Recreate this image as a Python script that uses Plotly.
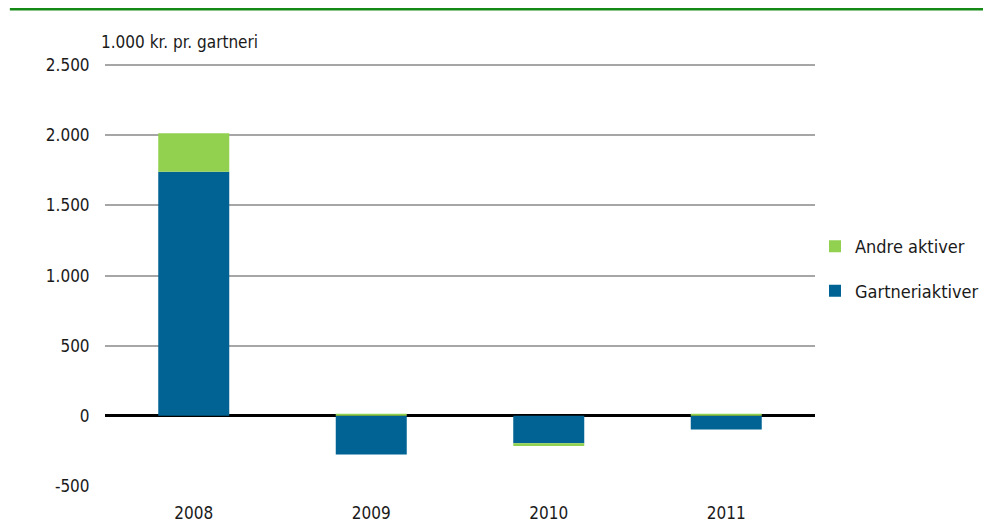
import plotly.graph_objects as go

years = ["2008", "2009", "2010", "2011"]
gartneriaktiver = [1740, -275, -195, -97]
andre_aktiver = [275, 15, -20, 15]
ytick_vals = [-500, 0, 500, 1000, 1500, 2000, 2500]
ytick_text = ["-500", "0", "500", "1.000", "1.500", "2.000", "2.500"]

FONT = "Liberation Sans Narrow, DejaVu Sans Condensed, Roboto Condensed, Roboto, sans-serif"
FS = 17

fig = go.Figure()
fig.add_trace(go.Bar(x=years, y=gartneriaktiver, name="Gartneriaktiver", legendgroup="g",
                     legendrank=2, marker=dict(color="#006394", line=dict(width=0))))
fig.add_trace(go.Bar(x=years, y=andre_aktiver, name="Andre aktiver", legendgroup="a",
                     legendrank=1, marker=dict(color="#92d050", line=dict(width=0))))

# page body has an 8px margin, so the figure is drawn 8px in from the top-left
fig.update_layout(
    width=983, height=514,
    margin=dict(l=97, r=176, t=56, b=36, autoexpand=False),
    barmode="relative", bargap=0.6,
    plot_bgcolor="white", paper_bgcolor="white",
    font=dict(family=FONT, size=FS, color="#1a1a1a"),
    showlegend=True,
    legend=dict(x=1.0, y=0.515, xanchor="left", yanchor="middle",
                traceorder="grouped", tracegroupgap=18,
                font=dict(family=FONT, size=18, color="#1a1a1a"),
                itemwidth=30),
    xaxis=dict(showgrid=False, showline=False, ticks="outside", ticklen=12,
               tickcolor="rgba(0,0,0,0)", tickfont=dict(size=FS), automargin=False),
    yaxis=dict(range=[-500, 2508], tickvals=ytick_vals, ticktext=ytick_text,
               showgrid=True, gridcolor="#a6a6a6", gridwidth=1.5,
               zeroline=True, zerolinecolor="black", zerolinewidth=2.5,
               ticks="outside", ticklen=11, tickcolor="rgba(0,0,0,0)", tickfont=dict(size=FS),
               automargin=False),
    annotations=[dict(text="1.000 kr. pr. gartneri", xref="paper", yref="paper",
                      x=-0.008, y=1.052, xanchor="left", yanchor="middle",
                      showarrow=False, font=dict(family=FONT, size=FS, color="#1a1a1a"))],
    shapes=[dict(type="line", xref="paper", yref="paper", x0=-0.134, x1=1.246,
                 y0=1.130, y1=1.130, line=dict(color="#168a16", width=2.5))],
)

fig.write_html("out.html")
